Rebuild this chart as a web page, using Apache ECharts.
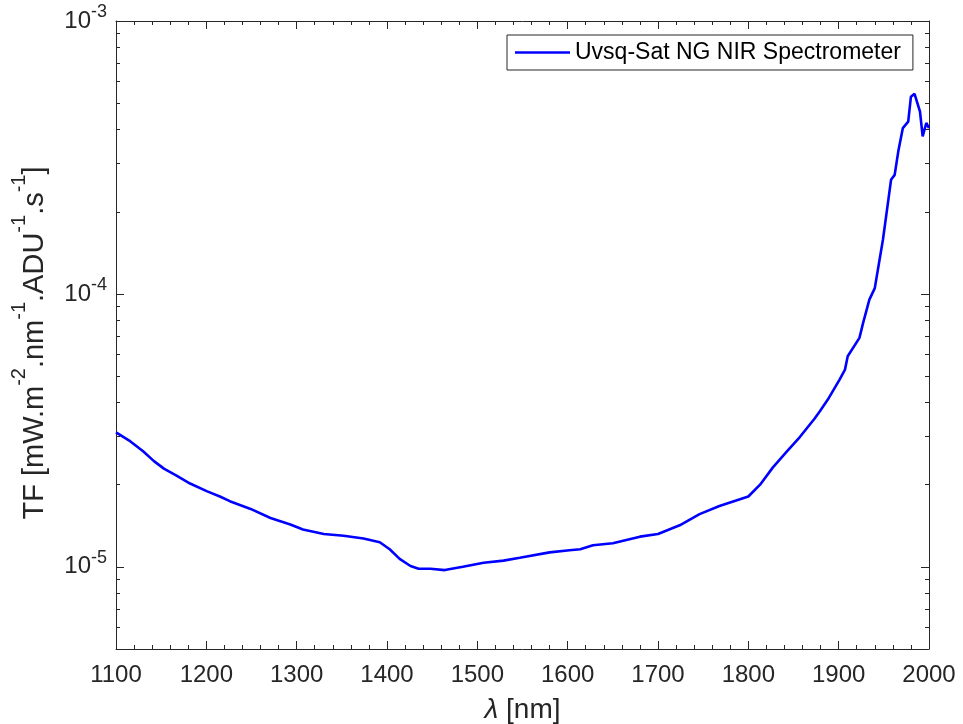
<!DOCTYPE html>
<html>
<head>
<meta charset="utf-8">
<script src="https://cdn.jsdelivr.net/npm/echarts@6/dist/echarts.min.js"></script>
<style>
html,body{margin:0;padding:0;background:#fff;}
#chart{width:963px;height:724px;}
</style>
</head>
<body>
<div id="chart"></div>
<script>
// Wavelength (nm)
const wavelengths = [1100,1116,1130,1142,1153,1167,1182,1201,1215,1226,1249,1271,1293,1307,1330,1352,1374,1392,1403,1414,1426,1435,1448,1464,1484,1507,1529,1547,1580,1602,1614,1628,1650,1680,1700,1724,1746,1768,1800,1813,1827,1842,1857,1873,1879,1888,1890,1901,1907,1910,1923,1927,1934,1940,1944,1949,1955,1958,1962,1966,1971,1977,1980,1984,1990,1993,1997,2000];
// Transfer function TF (mW.m-2.nm-1.ADU-1.s-1)
const tfValues = [3.11e-5,2.88e-5,2.65e-5,2.44e-5,2.29e-5,2.16e-5,2.02e-5,1.89e-5,1.81e-5,1.74e-5,1.63e-5,1.51e-5,1.43e-5,1.37e-5,1.32e-5,1.30e-5,1.27e-5,1.23e-5,1.16e-5,1.07e-5,1.007e-5,9.84e-6,9.84e-6,9.73e-6,1.0e-5,1.035e-5,1.054e-5,1.08e-5,1.13e-5,1.15e-5,1.16e-5,1.20e-5,1.22e-5,1.29e-5,1.32e-5,1.42e-5,1.56e-5,1.67e-5,1.81e-5,2.00e-5,2.31e-5,2.63e-5,2.99e-5,3.48e-5,3.71e-5,4.10e-5,4.16e-5,4.85e-5,5.28e-5,5.91e-5,6.90e-5,7.82e-5,9.53e-5,1.05e-4,1.26e-4,1.58e-4,2.21e-4,2.62e-4,2.73e-4,3.33e-4,4.05e-4,4.28e-4,5.28e-4,5.41e-4,4.66e-4,3.78e-4,4.23e-4,4.05e-4];
const seriesName = 'Uvsq-Sat NG NIR Spectrometer';
const yMinorTicks = [6e-6,7e-6,8e-6,9e-6,2e-5,3e-5,4e-5,5e-5,6e-5,7e-5,8e-5,9e-5,2e-4,3e-4,4e-4,5e-4,6e-4,7e-4,8e-4,9e-4];

const FONT = '"Liberation Sans", Arial, Helvetica, sans-serif';
const AX = '#262626';
const chart = echarts.init(document.getElementById('chart'), null, {renderer:'canvas'});
const data = wavelengths.map((w,i)=>[w, tfValues[i]]);
const lineStyle = {color: AX, width: 1};

function yAxisBase(extra){
  return Object.assign({
    type:'log', logBase:10, min:5e-6, max:1e-3,
    splitLine:{show:false}, minorTick:{show:false}, minorSplitLine:{show:false}
  }, extra);
}
function xAxisBase(extra){
  return Object.assign({
    type:'value', min:1100, max:2000, interval:100,
    splitLine:{show:false},
    axisLine:{show:true, lineStyle:lineStyle},
    axisTick:{show:true, inside:true, length:8, lineStyle:lineStyle},
    minorTick:{show:true, splitNumber:5, length:4, lineStyle:lineStyle}
  }, extra);
}

chart.setOption({
  backgroundColor:'#ffffff',
  animation:false,
  textStyle:{fontFamily:FONT},
  grid:{left:116, right:34, top:21, bottom:75, containLabel:false, outerBoundsMode:'none'},
  legend:{
    data:[seriesName], left:507, top:35, icon:'rect',
    padding:[6,12,6,8], itemWidth:55, itemHeight:2.6, itemGap:5,
    borderColor:AX, borderWidth:1, backgroundColor:'#fff',
    textStyle:{fontSize:23, color:'#000', fontFamily:FONT}
  },
  xAxis:[
    xAxisBase({
      position:'bottom',
      axisLabel:{fontSize:24, color:AX, margin:14, fontFamily:FONT, formatter:function(v){return String(v);}},
      name:'{i|λ} [nm]', nameLocation:'middle', nameGap:47,
      nameTextStyle:{fontSize:28, color:AX, fontFamily:FONT, rich:{i:{fontSize:28, fontStyle:'italic', color:AX, fontFamily:FONT}}}
    }),
    xAxisBase({position:'top', axisLabel:{show:false}})
  ],
  yAxis:[
    yAxisBase({
      position:'left',
      axisLine:{show:true, lineStyle:lineStyle},
      axisTick:{show:true, inside:true, length:8, lineStyle:lineStyle},
      axisLabel:{
        showMinLabel:false, margin:9, color:AX, fontFamily:FONT,
        formatter:function(v){ const e = Math.round(Math.log10(v)); return '{b|10}{s|' + e + '}'; },
        rich:{
          b:{fontSize:24, color:AX, fontFamily:FONT},
          s:{fontSize:18, color:AX, fontFamily:FONT, padding:[0,0,18,0]}
        }
      },
      name:'TF [mW.m{s|-2}.nm{s|-1}.ADU{s|-1}.s{s|-1}]',
      nameLocation:'middle', nameGap:55, nameRotate:90,
      nameTextStyle:{fontSize:29, color:AX, fontFamily:FONT, padding:[0,16,0,0],
        rich:{s:{fontSize:20, color:AX, fontFamily:FONT, padding:[0,0,32,0]}}}
    }),
    yAxisBase({
      position:'left',
      axisLine:{show:false},
      axisTick:{show:true, inside:true, length:4, lineStyle:lineStyle, customValues:yMinorTicks},
      axisLabel:{show:false}
    }),
    yAxisBase({
      position:'right',
      axisLine:{show:true, lineStyle:lineStyle},
      axisTick:{show:true, inside:true, length:8, lineStyle:lineStyle},
      axisLabel:{show:false}
    }),
    yAxisBase({
      position:'right',
      axisLine:{show:false},
      axisTick:{show:true, inside:true, length:4, lineStyle:lineStyle, customValues:yMinorTicks},
      axisLabel:{show:false}
    })
  ],
  series:[{
    name:seriesName, type:'line', data:data,
    xAxisIndex:0, yAxisIndex:0,
    symbol:'none', smooth:false,
    lineStyle:{color:'#0000ff', width:2.6},
    itemStyle:{color:'#0000ff'}
  }]
});
</script>
</body>
</html>
